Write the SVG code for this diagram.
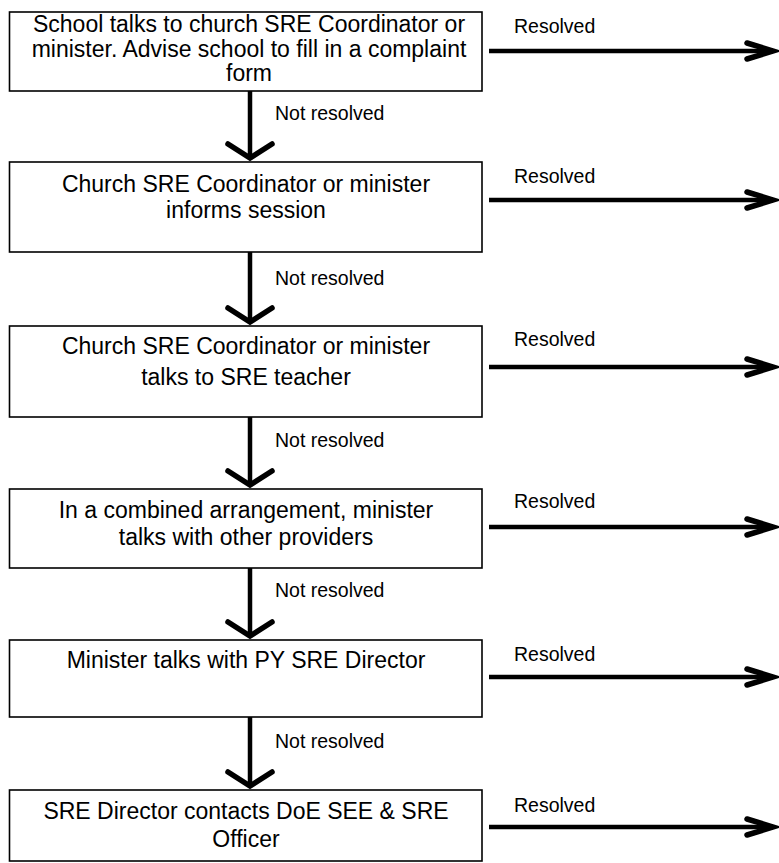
<svg xmlns="http://www.w3.org/2000/svg" width="779" height="863" viewBox="0 0 779 863">
<style>
.box{fill:#fff;stroke:#000;stroke-width:1.6}
.t{font-family:"Liberation Sans",Arial,sans-serif;font-size:23px;fill:#000;text-anchor:middle}
.l{font-family:"Liberation Sans",Arial,sans-serif;font-size:19.5px;fill:#000}
.shaft{stroke:#000;stroke-width:4.5;fill:none}
.head{stroke:#000;stroke-width:5.5;fill:none;stroke-linejoin:miter;stroke-linecap:round}
</style>
<rect width="779" height="863" fill="#fff"/>
<g id="connectors">
  <line class="shaft" x1="250" y1="91" x2="250" y2="158"/>
  <polyline class="head" points="228,144 250,158 272,144"/>
  <line class="shaft" x1="250" y1="252" x2="250" y2="322"/>
  <polyline class="head" points="228,308 250,322 272,308"/>
  <line class="shaft" x1="250" y1="417" x2="250" y2="485"/>
  <polyline class="head" points="228,471 250,485 272,471"/>
  <line class="shaft" x1="250" y1="568" x2="250" y2="636"/>
  <polyline class="head" points="228,622 250,636 272,622"/>
  <line class="shaft" x1="250" y1="717" x2="250" y2="786"/>
  <polyline class="head" points="228,772 250,786 272,772"/>

  <line class="shaft" x1="489" y1="51" x2="773" y2="51"/>
  <polyline class="head" points="747,43 773,51 747,59"/>
  <line class="shaft" x1="489" y1="200" x2="773" y2="200"/>
  <polyline class="head" points="747,192 773,200 747,208"/>
  <line class="shaft" x1="489" y1="367" x2="773" y2="367"/>
  <polyline class="head" points="747,359 773,367 747,375"/>
  <line class="shaft" x1="489" y1="527" x2="773" y2="527"/>
  <polyline class="head" points="747,519 773,527 747,535"/>
  <line class="shaft" x1="489" y1="677" x2="773" y2="677"/>
  <polyline class="head" points="747,669 773,677 747,685"/>
  <line class="shaft" x1="489" y1="827" x2="773" y2="827"/>
  <polyline class="head" points="747,819 773,827 747,835"/>

  <text class="l" x="275" y="120">Not resolved</text>
  <text class="l" x="275" y="285">Not resolved</text>
  <text class="l" x="275" y="447">Not resolved</text>
  <text class="l" x="275" y="597">Not resolved</text>
  <text class="l" x="275" y="748">Not resolved</text>

  <text class="l" x="514" y="33">Resolved</text>
  <text class="l" x="514" y="183">Resolved</text>
  <text class="l" x="514" y="346">Resolved</text>
  <text class="l" x="514" y="508">Resolved</text>
  <text class="l" x="514" y="661">Resolved</text>
  <text class="l" x="514" y="812">Resolved</text>
</g>
<g id="node1">
  <rect class="box" x="9.5" y="12" width="472.5" height="79"/>
  <text class="t" x="249" y="32">School talks to church SRE Coordinator or</text>
  <text class="t" x="249" y="56.5">minister. Advise school to fill in a complaint</text>
  <text class="t" x="249" y="81">form</text>
</g>
<g id="node2">
  <rect class="box" x="9.5" y="162" width="472.5" height="90"/>
  <text class="t" x="246" y="192">Church SRE Coordinator or minister</text>
  <text class="t" x="246" y="218">informs session</text>
</g>
<g id="node3">
  <rect class="box" x="9.5" y="326" width="472.5" height="91"/>
  <text class="t" x="246" y="354">Church SRE Coordinator or minister</text>
  <text class="t" x="246" y="385">talks to SRE teacher</text>
</g>
<g id="node4">
  <rect class="box" x="9.5" y="489" width="472.5" height="79"/>
  <text class="t" x="246" y="518">In a combined arrangement, minister</text>
  <text class="t" x="246" y="545">talks with other providers</text>
</g>
<g id="node5">
  <rect class="box" x="9.5" y="640" width="472.5" height="77"/>
  <text class="t" x="246" y="668">Minister talks with PY SRE Director</text>
</g>
<g id="node6">
  <rect class="box" x="9.5" y="790" width="472.5" height="71"/>
  <text class="t" x="246" y="819">SRE Director contacts DoE SEE &amp; SRE</text>
  <text class="t" x="246" y="847">Officer</text>
</g>
</svg>
